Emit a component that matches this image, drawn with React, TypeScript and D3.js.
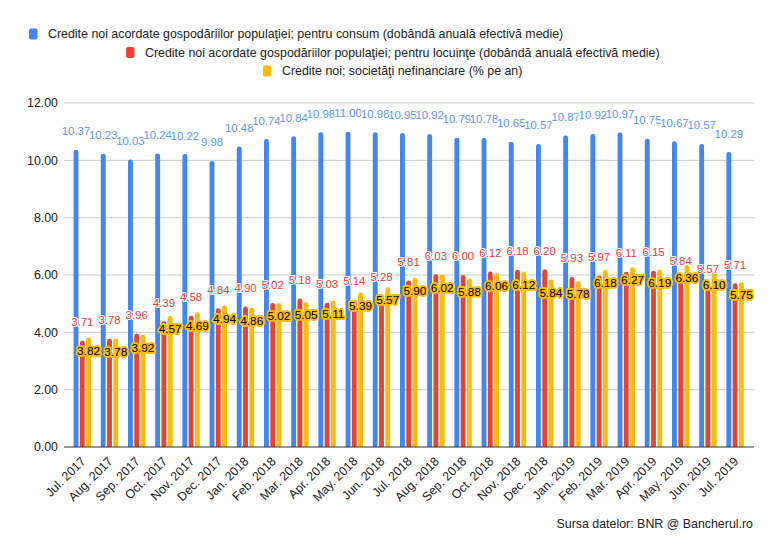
import React from "react";
import * as d3 from "d3";

const months = [
  "Jul. 2017", "Aug. 2017", "Sep. 2017", "Oct. 2017", "Nov. 2017", "Dec. 2017",
  "Jan. 2018", "Feb. 2018", "Mar. 2018", "Apr. 2018", "May. 2018", "Jun. 2018",
  "Jul. 2018", "Aug. 2018", "Sep. 2018", "Oct. 2018", "Nov. 2018", "Dec. 2018",
  "Jan. 2019", "Feb. 2019", "Mar. 2019", "Apr. 2019", "May. 2019", "Jun. 2019",
  "Jul. 2019",
];

const consum = [
  10.37, 10.23, 10.03, 10.24, 10.22, 9.98, 10.48, 10.74, 10.84, 10.98, 11.0, 10.98,
  10.95, 10.92, 10.79, 10.78, 10.65, 10.57, 10.87, 10.92, 10.97, 10.75, 10.67, 10.57,
  10.29,
];

const locuinte = [
  3.71, 3.78, 3.96, 4.39, 4.58, 4.84, 4.9, 5.02, 5.18, 5.03, 5.14, 5.28,
  5.81, 6.03, 6.0, 6.12, 6.18, 6.2, 5.93, 5.97, 6.11, 6.15, 5.84, 5.57,
  5.71,
];

const societati = [
  3.82, 3.78, 3.92, 4.57, 4.69, 4.94, 4.86, 5.02, 5.05, 5.11, 5.39, 5.57,
  5.9, 6.02, 5.88, 6.06, 6.12, 5.84, 5.78, 6.18, 6.27, 6.19, 6.36, 6.1,
  5.75,
];

const seriesNames = [
  "Credite noi acordate gospodăriilor populaţiei; pentru consum (dobândă anuală efectivă medie)",
  "Credite noi acordate gospodăriilor populaţiei; pentru locuinţe (dobândă anuală efectivă medie)",
  "Credite noi; societăţi nefinanciare (% pe an)",
];

const yTicks = [0, 2, 4, 6, 8, 10, 12];

const W = 782;
const H = 559;
const FONT = "Arial, 'Liberation Sans', sans-serif";

const colors = ["#4285f4", "#ea4335", "#fbbc04"];
const LABEL_SIZE = 11.4;

// rounded top bar path
function barPath(x: number, y: number, w: number, h: number, r: number) {
  const rr = Math.min(r, w / 2, h);
  return `M${x},${y + h}V${y + rr}Q${x},${y} ${x + rr},${y}H${x + w - rr}Q${x + w},${y} ${x + w},${y + rr}V${y + h}Z`;
}

export default function App() {
  const x0 = d3
    .scaleBand<string>()
    .domain(months)
    .range([68.7, 748.7])
    .paddingInner(0.36)
    .paddingOuter(0.18);

  const x1 = d3
    .scaleBand<number>()
    .domain([0, 1, 2])
    .range([0, x0.bandwidth()])
    .paddingInner(0.22);

  const y = d3.scaleLinear().domain([0, 12]).range([447, 103]);

  const data = [consum, locuinte, societati];

  const legend = [
    { mx: 29, tx: 48, cy: 34 },
    { mx: 126, tx: 145, cy: 52.5 },
    { mx: 263, tx: 282, cy: 71 },
  ];

  return (
    <svg width={W} height={H} style={{ position: "absolute", left: 0, top: 0 }} fontFamily={FONT}>
      <rect width={W} height={H} fill="#fff" />

      {/* legend */}
      {seriesNames.map((name, i) => (
        <g key={name}>
          <rect x={legend[i].mx} y={legend[i].cy - 5.5} width={8.5} height={11} rx={2} fill={colors[i]} />
          <text x={legend[i].tx} y={legend[i].cy} dy="0.35em" fontSize={12.4} fill="#222">
            {name}
          </text>
        </g>
      ))}

      {/* gridlines */}
      {yTicks.map((t) => (
        <g key={t}>
          {t !== 0 && (
            <line x1={64} x2={754} y1={y(t)} y2={y(t)} stroke="#cccccc" strokeWidth={1} />
          )}
          <text x={58} y={y(t)} dy="0.35em" textAnchor="end" fontSize={12.4} fill="#222">
            {t.toFixed(2)}
          </text>
        </g>
      ))}

      {/* bars */}
      {data.map((vals, s) =>
        vals.map((v, i) => {
          const bx = (x0(months[i]) ?? 0) + (x1(s) ?? 0);
          const by = y(v);
          return (
            <path
              key={`${s}-${i}`}
              d={barPath(bx, by, x1.bandwidth(), y(0) - by, 2.4)}
              fill={colors[s]}
            />
          );
        })
      )}

      {/* baseline */}
      <line x1={64} x2={754} y1={y(0)} y2={y(0)} stroke="#333" strokeWidth={1.2} />

      {/* labels: consum */}
      {consum.map((v, i) => {
        const cx = (x0(months[i]) ?? 0) + (x1(0) ?? 0) + x1.bandwidth() / 2;
        return (
          <text
            key={`l0-${i}`}
            x={cx}
            y={y(v) - 18.5}
            dy="0.35em"
            textAnchor="middle"
            fontSize={LABEL_SIZE}
            fill="#5e97f6"
            stroke="#fff"
            strokeWidth={2}
            paintOrder="stroke"
          >
            {v.toFixed(2)}
          </text>
        );
      })}

      {/* labels: locuinte */}
      {locuinte.map((v, i) => {
        const cx = (x0(months[i]) ?? 0) + (x1(1) ?? 0) + x1.bandwidth() / 2;
        return (
          <text
            key={`l1-${i}`}
            x={cx}
            y={y(v) - 18.5}
            dy="0.35em"
            textAnchor="middle"
            fontSize={LABEL_SIZE}
            fill="#ea4335"
            stroke="#fff"
            strokeWidth={2}
            paintOrder="stroke"
          >
            {v.toFixed(2)}
          </text>
        );
      })}

      {/* labels: societati */}
      {societati.map((v, i) => {
        const cx = (x0(months[i]) ?? 0) + (x1(2) ?? 0) + x1.bandwidth() / 2;
        return (
          <text
            key={`l2-${i}`}
            x={cx}
            y={y(v) + 13}
            dy="0.35em"
            textAnchor="middle"
            fontSize={LABEL_SIZE + 0.4}
            fill="#000"
            stroke="#fbbc04"
            strokeWidth={4}
            strokeLinejoin="round"
            paintOrder="stroke"
          >
            {v.toFixed(2)}
          </text>
        );
      })}

      {/* x axis labels */}
      {months.map((m) => {
        const cx = (x0(m) ?? 0) + x0.bandwidth() / 2;
        return (
          <text
            key={m}
            transform={`translate(${cx + 4},${462}) rotate(-45)`}
            textAnchor="end"
            fontSize={12.4}
            fill="#222"
          >
            {m}
          </text>
        );
      })}

      <text x={753} y={528} textAnchor="end" fontSize={12.4} fill="#222">
        Sursa datelor: BNR @ Bancherul.ro
      </text>
    </svg>
  );
}
